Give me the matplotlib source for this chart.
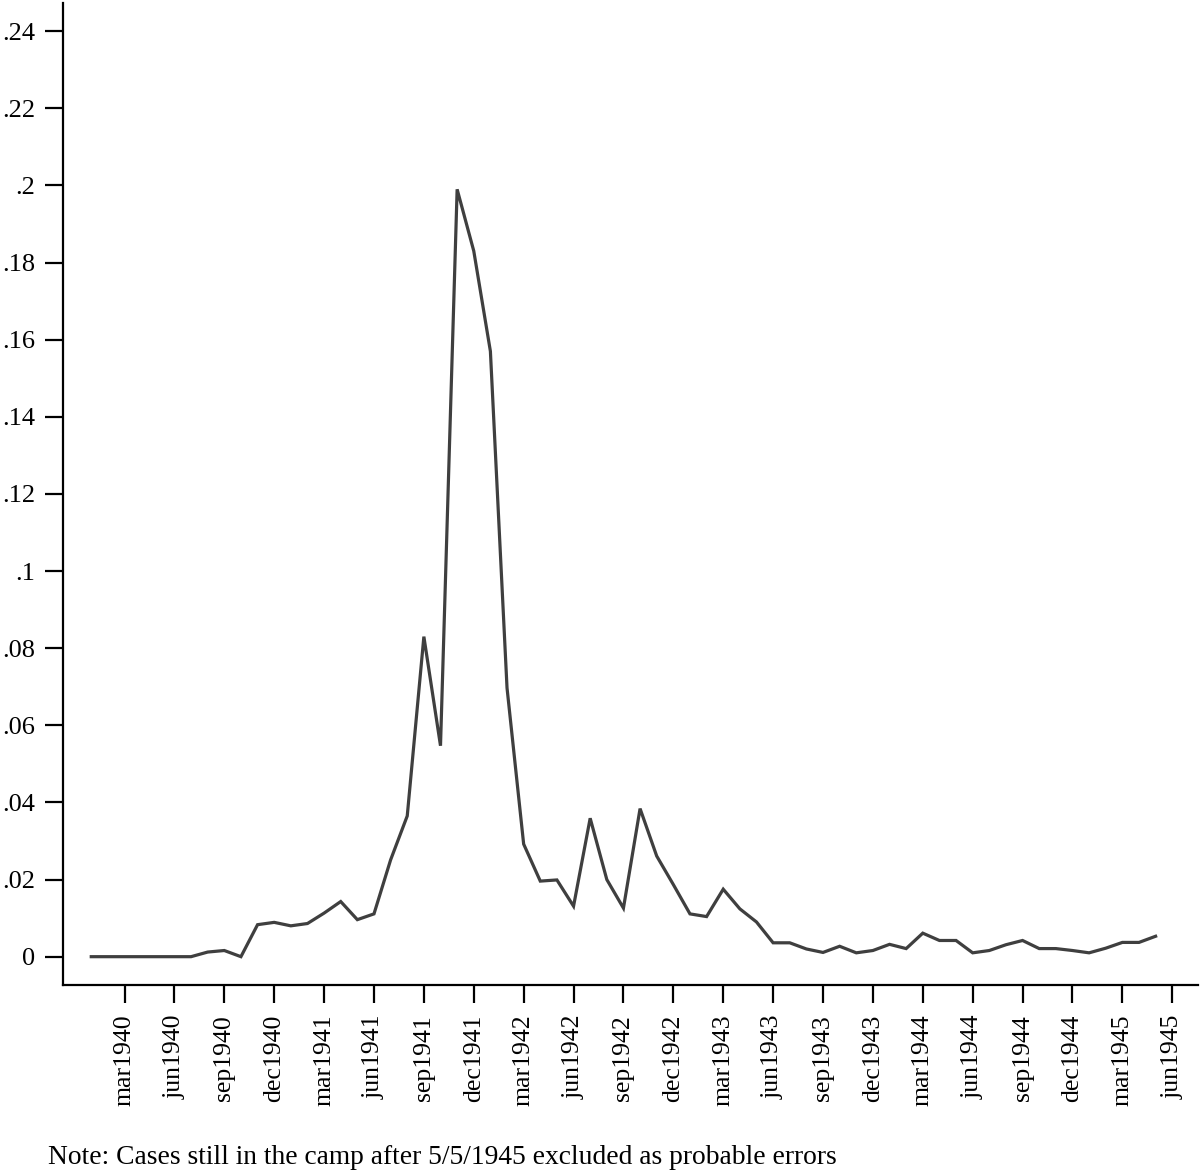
import matplotlib.pyplot as plt

plt.rcParams['font.family'] = ['Liberation Serif', 'DejaVu Serif']

# monthly share, jan1940 .. may1945
start_year = 1940
share = [0, 0, 0, 0, 0, 0, 0, 0.0012, 0.0016, 0, 0.0083, 0.0089,
         0.0080, 0.0086, 0.0113, 0.0143, 0.0096, 0.0111, 0.0251, 0.0365, 0.0830, 0.0547, 0.1990, 0.1830,
         0.1570, 0.0697, 0.0292, 0.0196, 0.0199, 0.0131, 0.0359, 0.0200, 0.0126, 0.0384, 0.0261, 0.0187,
         0.0111, 0.0104, 0.0175, 0.0124, 0.0090, 0.0036, 0.0036, 0.0020, 0.0011, 0.0027, 0.0010, 0.0016,
         0.0032, 0.0021, 0.0061, 0.0042, 0.0042, 0.0010, 0.0016, 0.0031, 0.0042, 0.0021, 0.0021, 0.0016,
         0.0010, 0.0022, 0.0037, 0.0037, 0.0053]
months = list(range(len(share)))

tick_months = list(range(2, 66, 3))
mnames = ['mar', 'jun', 'sep', 'dec']
tick_labels = [mnames[i % 4] + str(start_year + m // 12) for i, m in enumerate(tick_months)]
ytick_vals = [0, .02, .04, .06, .08, .1, .12, .14, .16, .18, .2, .22, .24]
ytick_labels = ['0', '.02', '.04', '.06', '.08', '.1', '.12', '.14', '.16', '.18', '.2', '.22', '.24']

fig = plt.figure(figsize=(12.02, 11.74), dpi=100)
ax = fig.add_axes([0.0524, 0.161, 0.9443, 0.8364])
ax.plot(months, share, color='#3f3f3f', lw=2.3, solid_joinstyle='miter')

ax.set_xlim(-1.70, 66.55)
ax.set_ylim(-0.00734, 0.2473)
ax.set_xticks(tick_months)
ax.set_xticklabels(tick_labels, rotation=90, fontsize=18.5)
ax.set_yticks(ytick_vals)
ax.set_yticklabels(ytick_labels, fontsize=19)
ax.tick_params(length=13, width=1.6, color='black')
ax.tick_params(axis='x', pad=8.5)
ax.tick_params(axis='y', pad=7)
for s in ['top', 'right']:
    ax.spines[s].set_visible(False)
for s in ['left', 'bottom']:
    ax.spines[s].set_linewidth(1.6)

fig.text(48 / 1202, 1 - 1157 / 1174, 'Note: Cases still in the camp after 5/5/1945 excluded as probable errors',
         fontsize=19.8, va='center', ha='left')

fig.savefig('out.png')
